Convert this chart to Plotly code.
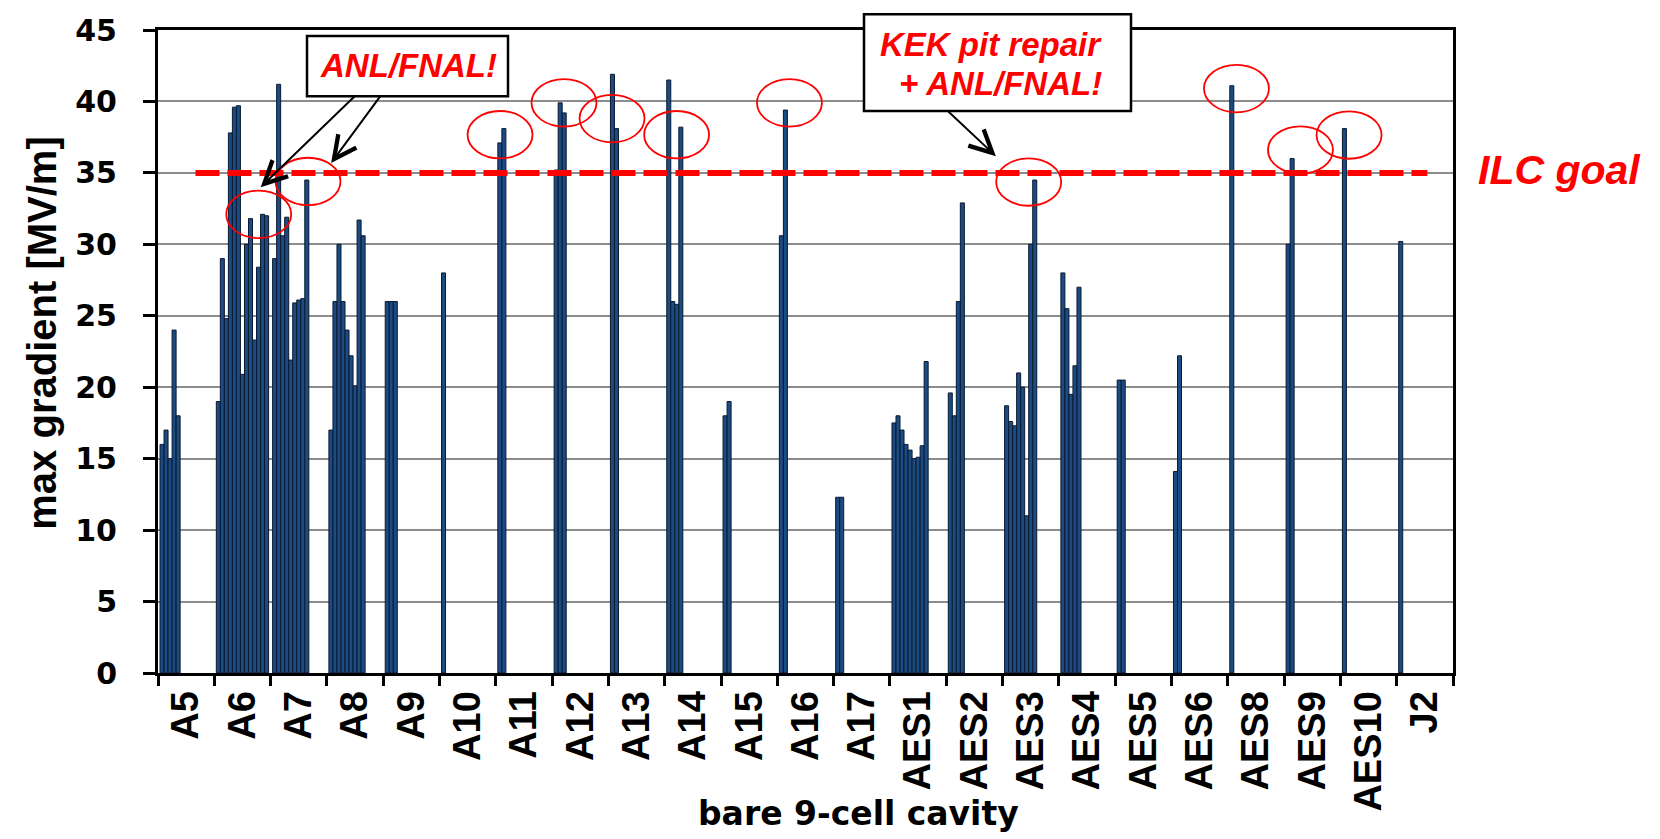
import plotly.graph_objects as go

# ---------------- data ----------------
categories = ["A5", "A6", "A7", "A8", "A9", "A10", "A11", "A12", "A13", "A14",
              "A15", "A16", "A17", "AES1", "AES2", "AES3", "AES4", "AES5",
              "AES6", "AES8", "AES9", "AES10", "J2"]

a5 = [16, 17, 15, 24, 18]
a6 = [19, 29, 24.8, 37.8, 39.6, 39.7, 20.9, 30, 31.8, 23.3, 28.4, 32.1, 32.0]
a7 = [29, 41.2, 30.6, 31.9, 21.9, 25.9, 26.1, 26.2, 34.5]
a8 = [17, 26, 30, 26, 24, 22.2, 20.1, 31.7, 30.6]
a9 = [26, 26, 26]
a10 = [28]
a11 = [37.1, 38.1]
a12 = [35.2, 39.9, 39.2]
a13 = [41.9, 38.1]
a14 = [41.5, 26, 25.8, 38.2]
a15 = [18, 19]
a16 = [30.6, 39.4]
a17 = [12.3, 12.3]
aes1 = [17.5, 18, 17, 16, 15.6, 15, 15.1, 15.9, 21.8]
aes2 = [19.6, 18, 26, 32.9]
aes3 = [18.7, 17.6, 17.3, 21, 20, 11, 30, 34.5]
aes4 = [28, 25.5, 19.5, 21.5, 27]
aes5 = [20.5, 20.5]
aes6 = [14.1, 22.2]
aes8 = [41.1]
aes9 = [30, 36.0]
aes10 = [38.1]
j2 = [30.2]

results = [a5, a6, a7, a8, a9, a10, a11, a12, a13, a14, a15, a16, a17,
           aes1, aes2, aes3, aes4, aes5, aes6, aes8, aes9, aes10, j2]

ilc_goal = 35
y_ticks = [0, 5, 10, 15, 20, 25, 30, 35, 40, 45]

# highlighted results (ellipse centres, category units / MV/m)
circle_x = [1.289, 2.164, 5.575, 6.711, 7.564, 8.711, 10.715, 14.964, 18.654, 19.791, 20.654]
circle_y = [32.1, 34.4, 37.67, 39.9, 38.8, 37.67, 39.9, 34.36, 40.9, 36.6, 37.65]

# ---------------- figure ----------------
n_slots = max(len(r) for r in results)
fig = go.Figure()
for j in range(n_slots):
    yy = [r[j] if j < len(r) else None for r in results]
    fig.add_trace(go.Bar(
        x=categories, y=yy, showlegend=False,
        marker=dict(color="#1b4b82", line=dict(color="#0a1a30", width=1)),
        hoverinfo="x+y"))

PL, PR, PT, PB = 158, 1453, 23, 673
W, H = PR - PL, PB - PT


def px(x):
    return (x - PL) / W


def py(y):
    return (PB - y) / H


shapes = []
# ILC goal dashed line
shapes.append(dict(type="line", xref="x", yref="y", x0=0.166, x1=22.045,
                   y0=ilc_goal, y1=ilc_goal,
                   line=dict(color="#ff0000", width=6, dash="24px,8px"), layer="above"))
# ellipses
for cx, cy in zip(circle_x, circle_y):
    shapes.append(dict(type="circle", xref="x", yref="y",
                       x0=cx - 0.577, x1=cx + 0.577, y0=cy - 1.66, y1=cy + 1.66,
                       line=dict(color="#ff0000", width=1.8), layer="above"))
# callout boxes
shapes.append(dict(type="rect", xref="paper", yref="paper",
                   x0=px(307), x1=px(508), y0=py(90), y1=py(29),
                   fillcolor="white", line=dict(color="black", width=2.5), layer="above"))
shapes.append(dict(type="rect", xref="paper", yref="paper",
                   x0=px(864), x1=px(1131), y0=py(105), y1=py(7),
                   fillcolor="white", line=dict(color="black", width=2.5), layer="above"))

red_font = dict(family="Liberation Sans, Arial, sans-serif", size=33, color="#ff0000",
                weight="bold", style="italic")
title_font = dict(family="Liberation Sans, Arial, sans-serif", size=40, color="black",
                  weight="bold")
annotations = [
    dict(xref="paper", yref="paper", x=px(408), y=py(59), text="ANL/FNAL!",
         showarrow=False, font=red_font, xanchor="center", yanchor="middle"),
    dict(xref="paper", yref="paper", x=px(991), y=py(38), text="KEK pit repair",
         showarrow=False, font=red_font, xanchor="center", yanchor="middle"),
    dict(xref="paper", yref="paper", x=px(1000), y=py(77), text="+ ANL/FNAL!",
         showarrow=False, font=red_font, xanchor="center", yanchor="middle"),
    dict(xref="paper", yref="paper", x=px(1559), y=py(165), text="ILC goal",
         showarrow=False, xanchor="center", yanchor="middle",
         font=dict(family="Liberation Sans, Arial, sans-serif", size=41, color="#ff0000",
                   weight="bold", style="italic")),
    dict(xref="paper", yref="paper", x=px(858), y=py(815), text="bare 9-cell cavity",
         showarrow=False, xanchor="center", yanchor="middle",
         font=dict(family="DejaVu Sans, sans-serif", size=33, color="black", weight="bold")),
    dict(xref="paper", yref="paper", x=px(42), y=py(330), text="max gradient [MV/m]",
         showarrow=False, xanchor="center", yanchor="middle", textangle=-90,
         font=title_font),
]
# arrows
for (hx, hy, tx, ty) in [(1.324, 34.0, 3.020, 40.46),
                         (2.575, 35.7, 3.466, 40.46),
                         (14.381, 36.17, 13.51, 39.4)]:
    annotations.append(dict(x=hx, y=hy, ax=tx, ay=ty, xref="x", yref="y",
                            axref="x", ayref="y", text="", showarrow=True,
                            arrowhead=5, arrowsize=2.2, arrowwidth=2, arrowcolor="black"))

fig.update_layout(
    width=1660, height=839,
    margin=dict(l=PL, r=1660 - PR, t=PT, b=839 - PB, pad=0),
    paper_bgcolor="white", plot_bgcolor="white",
    barmode="group", bargap=1 / 14, bargroupgap=0,
    shapes=shapes, annotations=annotations,
    xaxis=dict(type="category", categoryorder="array", categoryarray=categories,
               tickson="boundaries", ticks="outside", ticklen=10, tickwidth=2.5,
               tickcolor="black", showline=True, linecolor="black", linewidth=3,
               mirror=True, showgrid=False, tickangle=-90,
               tickfont=dict(family="Liberation Sans, Arial, sans-serif", size=38,
                             color="black", weight="bold")),
    yaxis=dict(range=[0, 45], tickvals=y_ticks, ticks="outside", ticklen=12,
               tickwidth=2.5, tickcolor="black", showline=True, linecolor="black",
               linewidth=3, mirror=True, showgrid=True, gridcolor="#8c8c8c",
               gridwidth=1.5, zeroline=False, ticklabelstandoff=20,
               tickfont=dict(family="DejaVu Sans, sans-serif", size=30,
                             color="black", weight="bold")),
)

fig.write_html("out.html", config={"displayModeBar": False},
               post_script="document.body.style.margin='0';document.body.style.overflow='hidden';")
